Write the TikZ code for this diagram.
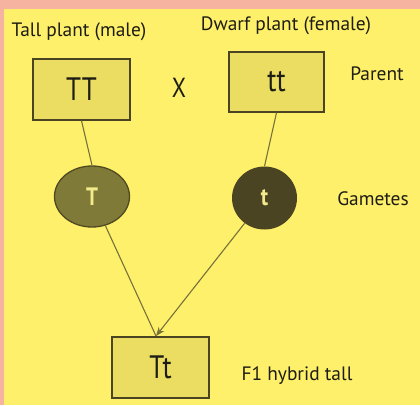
\documentclass[tikz,border=0pt]{standalone}
\usepackage{fontspec}
\setmainfont{PT Sans}
\usepackage{graphicx}
\usetikzlibrary{arrows.meta,shapes.geometric}
\definecolor{bgyellow}{HTML}{FEF06A}
\definecolor{bgpink}{HTML}{F6B4A0}
\definecolor{boxfill}{HTML}{EBDD62}
\definecolor{boxedge}{HTML}{4A4423}
\definecolor{gamT}{HTML}{7F7A37}
\definecolor{gamTedge}{HTML}{4F4A22}
\definecolor{gamt}{HTML}{4A4422}
\definecolor{linecol}{HTML}{77713A}
\definecolor{txtdark}{HTML}{1E1D14}
\definecolor{txtlight}{HTML}{F3EA8C}
\newcommand{\tallt}[1]{\scalebox{1}[1.2]{#1}}
\begin{document}
\begin{tikzpicture}[x=1pt,y=-1pt,
  genebox/.style={draw=boxedge,line width=1.4pt,fill=boxfill,minimum width=97pt,minimum height=61pt,inner sep=0pt,text=txtdark,font=\fontsize{27}{27}\selectfont},
  label/.style={text=txtdark,font=\fontsize{19.4}{20}\selectfont,inner sep=0pt},
  link/.style={draw=linecol,line width=1.1pt},
  gamete/.style={ellipse,inner sep=0pt,text=txtlight,font=\fontsize{21}{21}\selectfont\bfseries}]
\useasboundingbox (0,0) rectangle (420,405);
\fill[bgpink] (0,0) rectangle (420,405);
\fill[bgyellow] (4,9) rectangle (420,405);
\node[label] (lmale) at (79,32) {Tall plant (male)};
\node[label] (lfemale) at (286,26) {Dwarf plant (female)};
\node[genebox] (TT) at (81.5,89.5) {\tallt{TT}};
\node[label,font=\fontsize{23}{23}\selectfont] (cross) at (179,88) {\tallt{X}};
\node[genebox,minimum width=95pt,minimum height=60pt] (tt) at (276.5,82) {\tallt{tt}};
\node[label] (lparent) at (377,74) {Parent};
\node[gamete,draw=gamTedge,line width=1.3pt,fill=gamT,minimum width=75pt,minimum height=61pt] (T) at (92,196.5) {\tallt{T}};
\node[gamete,fill=gamt,minimum width=65pt,minimum height=63pt] (t) at (264.5,198) {\tallt{t}};
\node[label] (lgam) at (373,199) {Gametes};
\node[genebox] (Tt) at (160.5,367.5) {\tallt{Tt}};
\node[label] (lf1) at (297,376) {F1 hybrid tall};
\coordinate (meet) at (156,336);
\draw[link] (TT.south) -- (T.north);
\draw[link] (tt.south) -- (t.north);
\draw[link] (T) -- (meet);
\draw[link,-{Stealth[length=9pt,width=7pt]}] (t) -- (meet);
\end{tikzpicture}
\end{document}
